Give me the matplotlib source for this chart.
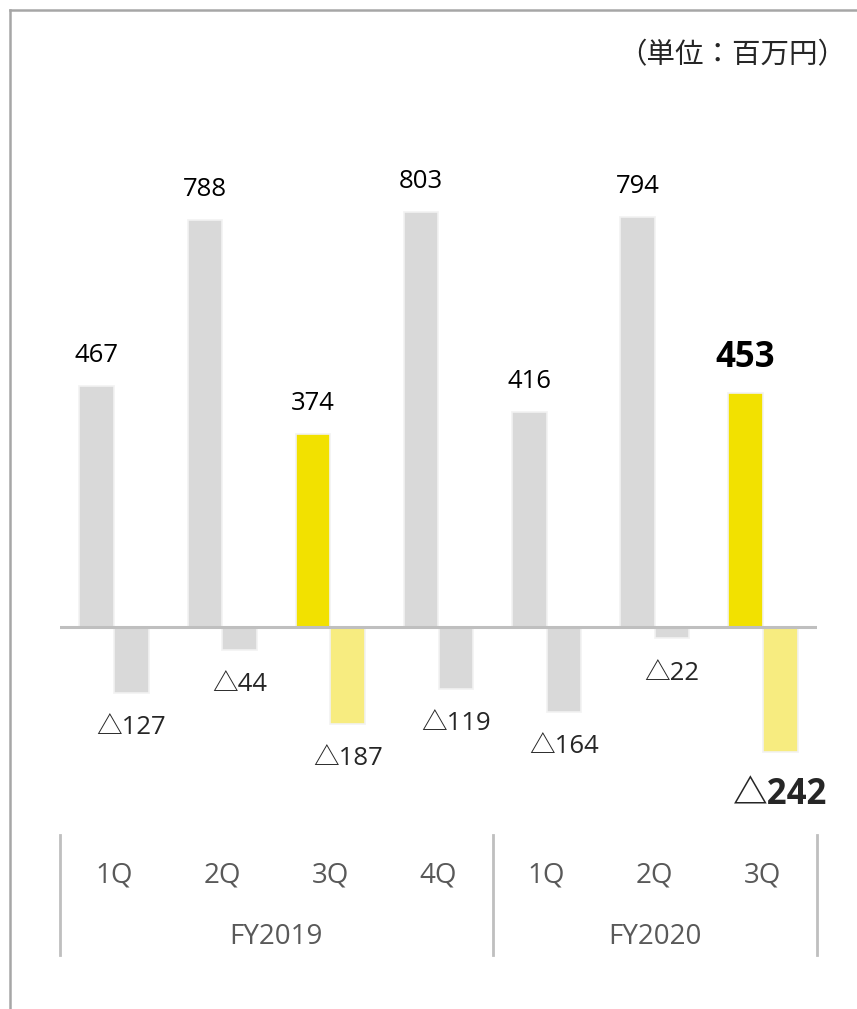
import matplotlib.pyplot as plt
from matplotlib.lines import Line2D
from matplotlib.transforms import blended_transform_factory
import numpy as np

plt.rcParams["font.family"] = ["Open Sans", "Noto Sans CJK JP", "DejaVu Sans"]

quarters = ["1Q", "2Q", "3Q", "4Q", "1Q", "2Q", "3Q"]
years = ["FY2019", "FY2020"]
year_spans = [(0, 3), (4, 6)]
profit = [467, 788, 374, 803, 416, 794, 453]
loss = [-127, -44, -187, -119, -164, -22, -242]
highlight = [2, 6]

fig = plt.figure(figsize=(8.57, 10.09), dpi=100)
ax = fig.add_axes([60 / 857, 179 / 1009, 757 / 857, 730 / 1009])

x = np.arange(len(quarters))
w = 0.32
pos_colors = ["#f2e100" if i in highlight else "#d9d9d9" for i in x]
neg_colors = ["#f7ec80" if i in highlight else "#d9d9d9" for i in x]
ax.bar(x - w / 2, profit, w, color=pos_colors, edgecolor="#f2f2f2", linewidth=1.2)
ax.bar(x + w / 2, loss, w, color=neg_colors, edgecolor="#f2f2f2", linewidth=1.2)
ax.axhline(0, color="#bfbfbf", lw=2.2, zorder=3)

ax.set_xlim(-0.5, len(quarters) - 0.5)
ax.set_ylim(-392.6, 1019.4)
ax.axis("off")

# value labels
for i in x:
    last = i == len(quarters) - 1
    ax.annotate(str(profit[i]), (i - w / 2, profit[i]), xytext=(0, 25 if last else 21.6),
                textcoords="offset points", ha="center", va="center",
                fontsize=25 if last else 18.5, fontweight="bold" if last else "normal",
                color="#000000")
    ax.annotate("△" + str(-loss[i]), (i + w / 2, loss[i]), xytext=(0, -31 if last else -25),
                textcoords="offset points", ha="center", va="center",
                fontsize=25 if last else 18.5, fontweight="bold" if last else "normal",
                color="#262626")

# category axis
tr = blended_transform_factory(ax.transData, ax.transAxes)
for i, q in enumerate(quarters):
    ax.text(i, -0.063, q, transform=tr, ha="center", va="center",
            fontsize=20, color="#595959", clip_on=False)
for (a, b), yr in zip(year_spans, years):
    ax.text((a + b) / 2, -0.1466, yr, transform=tr, ha="center", va="center",
            fontsize=20, color="#595959", clip_on=False)
for sx in [-0.5, 3.5, 6.5]:
    ax.plot([sx, sx], [-0.007, -0.171], transform=tr, color="#bfbfbf", lw=2,
            clip_on=False)

fig.text(846 / 857, 1 - 55 / 1009, "（単位：百万円）", ha="right", va="center",
         fontsize=20.5, color="#262626", family=["Noto Sans CJK JP", "DejaVu Sans"])

# outer border (top and left)
fig.add_artist(Line2D([10 / 857, 10 / 857], [0, 1 - 10 / 1009], color="#a6a6a6", lw=1.8,
                      transform=fig.transFigure))
fig.add_artist(Line2D([10 / 857, 1], [1 - 10 / 1009, 1 - 10 / 1009], color="#a6a6a6", lw=1.8,
                      transform=fig.transFigure))

fig.savefig("out.png", dpi=100)
